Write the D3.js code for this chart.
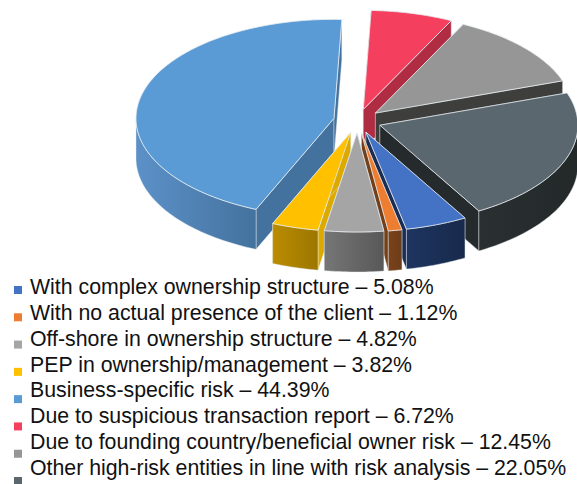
<!DOCTYPE html>
<html>
<head>
<meta charset="utf-8">
<script src="https://cdnjs.cloudflare.com/ajax/libs/d3/7.8.5/d3.min.js"></script>
<style>html,body{margin:0;padding:0;background:#fff}svg{display:block}</style>
</head>
<body>
<svg id="chart" width="577" height="484"></svg>
<script>
const categories = [
  "With complex ownership structure",
  "With no actual presence of the client",
  "Off-shore in ownership structure",
  "PEP in ownership/management",
  "Business-specific risk",
  "Due to suspicious transaction report",
  "Due to founding country/beneficial owner risk",
  "Other high-risk entities in line with risk analysis"
];
const values = [5.08, 1.12, 4.82, 3.82, 44.39, 6.72, 12.45, 22.05];
const topColors  = ["#4472c4", "#ed7d31", "#a5a5a5", "#ffc000", "#5b9bd5", "#f43f5e", "#959695", "#5a676e"];
const cutColors  = ["#1a2d52", "#74401a", "#6a6a6a", "#dba900", "#44729e", "#af2c43", "#3e3f3d", "#252b2d"];
const wallLeft   = ["#1e3560", "#7a431b", "#767676", "#bb8c00", "#5c91c8", "#af2c43", "#3e3f3d", "#2a2f31"];
const wallRight  = ["#182a4c", "#6c3c18", "#585858", "#9c7600", "#44729e", "#af2c43", "#3e3f3d", "#232829"];

const W = 577, H = 484;
const cx = 357.4, cy = 121, rx = 198, ry = 99, depth = 40, explode = 24;
const edge = "#e9eef2";
const svg = d3.select("#chart");
const defs = svg.append("defs");

const pie = d3.pie().sort(null).value(d => d)
  .startAngle(150 * Math.PI / 180).endAngle(510 * Math.PI / 180);
const line = d3.line();

const arcs = pie(values).map((a, i) => {
  const mid = (a.startAngle + a.endAngle) / 2;
  return { i, a0: a.startAngle, a1: a.endAngle, mid,
    ox: cx + explode * Math.sin(mid), oy: cy - explode * (ry / rx) * Math.cos(mid) };
});

const rimPoint = (s, t, dy = 0) => [s.ox + rx * Math.sin(t), s.oy - ry * Math.cos(t) + dy];
const sample = (a, b) => {
  const n = Math.max(2, Math.ceil((b - a) / 0.02));
  return d3.range(n + 1).map(k => a + (b - a) * k / n);
};
const TAU = 2 * Math.PI;

// Portion of a slice's rim that faces the viewer (90deg .. 270deg)
function frontRange(s) {
  const lo = Math.PI / 2, hi = 3 * Math.PI / 2;
  const a = Math.max(s.a0 % TAU, lo), b = Math.min(s.a0 % TAU + (s.a1 - s.a0), hi);
  return b > a ? [a, b] : null;
}

const order = arcs.slice().sort((p, q) => Math.cos(q.mid) - Math.cos(p.mid));

order.forEach(s => {
  const g = svg.append("g");
  [s.a0, s.a1].forEach(t => {
    const p = rimPoint(s, t), q = rimPoint(s, t, depth);
    g.append("path")
      .attr("d", line([[s.ox, s.oy], p, q, [s.ox, s.oy + depth]]) + "Z")
      .attr("fill", cutColors[s.i])
      .attr("stroke", edge).attr("stroke-width", 0.8).attr("stroke-opacity", 0.55)
      .attr("stroke-linejoin", "round");
  });
  const fr = frontRange(s);
  if (fr) {
    const ts = sample(fr[0], fr[1]);
    const upper = ts.map(t => rimPoint(s, t));
    const lower = ts.slice().reverse().map(t => rimPoint(s, t, depth));
    const xs = upper.map(p => p[0]);
    const id = "wall" + s.i;
    const grad = defs.append("linearGradient").attr("id", id)
      .attr("gradientUnits", "userSpaceOnUse")
      .attr("x1", d3.min(xs)).attr("x2", d3.max(xs)).attr("y1", 0).attr("y2", 0);
    grad.append("stop").attr("offset", 0).attr("stop-color", wallLeft[s.i]);
    grad.append("stop").attr("offset", 1).attr("stop-color", wallRight[s.i]);
    g.append("path")
      .attr("d", line(upper.concat(lower)) + "Z")
      .attr("fill", `url(#${id})`)
      .attr("stroke", edge).attr("stroke-width", 0.8).attr("stroke-opacity", 0.55)
      .attr("stroke-linejoin", "round");
  }
  const rim = sample(s.a0, s.a1).map(t => rimPoint(s, t));
  g.append("path")
    .attr("d", line([[s.ox, s.oy]].concat(rim)) + "Z")
    .attr("fill", topColors[s.i])
    .attr("stroke", edge).attr("stroke-width", 1).attr("stroke-opacity", 0.8)
    .attr("stroke-linejoin", "round");
});

// Legend
const swatchY = d3.scaleLinear().domain([0, 7]).range([286, 477]);
const labelY = d3.scaleLinear().domain([0, 7]).range([294, 475]);
const fmt = d3.format(".2f");
const legend = svg.append("g");
categories.forEach((c, i) => {
  legend.append("rect").attr("x", 14).attr("y", swatchY(i))
    .attr("width", 8).attr("height", 8).attr("fill", topColors[i]);
  legend.append("text").attr("x", 30).attr("y", labelY(i))
    .attr("font-family", "'Liberation Sans', Arial, sans-serif")
    .attr("font-size", 21.3).attr("fill", "#111")
    .text(`${c} \u2013 ${fmt(values[i])}%`);
});
</script>
</body>
</html>
